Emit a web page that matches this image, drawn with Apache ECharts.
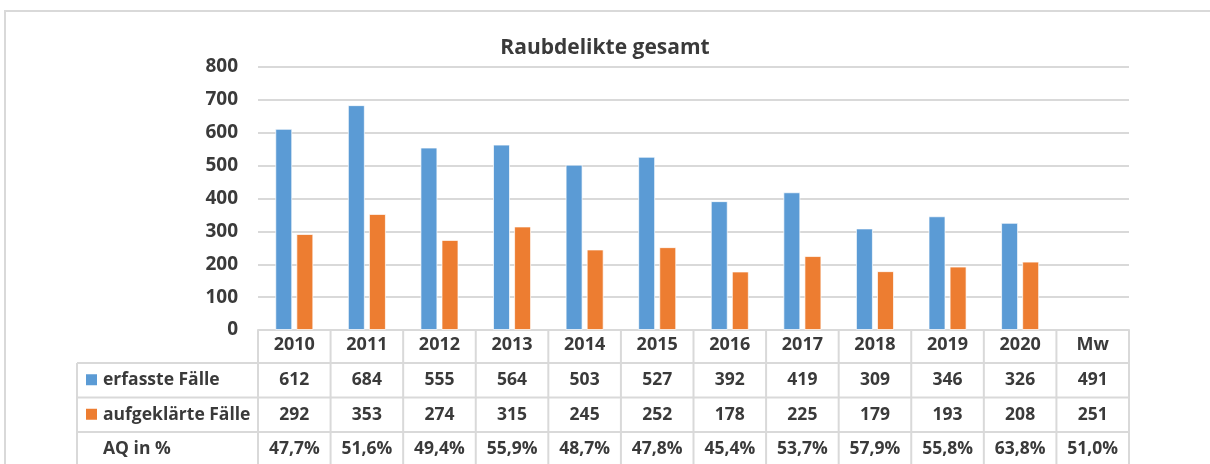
<!DOCTYPE html>
<html>
<head>
<meta charset="utf-8">
<script src="https://cdn.jsdelivr.net/npm/echarts@6/dist/echarts.min.js"></script>
<style>
html,body{margin:0;padding:0;background:#fff;}
#c{width:1210px;height:464px;}
</style>
</head>
<body>
<div id="c"></div>
<script>
const title = 'Raubdelikte gesamt';
const categories = ['2010','2011','2012','2013','2014','2015','2016','2017','2018','2019','2020','Mw'];
const erfasste = [612, 684, 555, 564, 503, 527, 392, 419, 309, 346, 326];
const aufgeklaerte = [292, 353, 274, 315, 245, 252, 178, 225, 179, 193, 208];
const erfassteMw = 491;
const aufgeklaerteMw = 251;
const aq = ['47,7%','51,6%','49,4%','55,9%','48,7%','47,8%','45,4%','53,7%','57,9%','55,8%','63,8%','51,0%'];
const yTicks = [0, 100, 200, 300, 400, 500, 600, 700, 800];

const BLUE = '#5B9BD5', ORANGE = '#ED7D31', TXT = '#3a3a3a', LINE = '#d9d9d9';
const FONT = 'Open Sans';

const chart = echarts.init(document.getElementById('c'), null, {renderer: 'canvas'});
const option = {
  animation: false,
  title: {
    text: title, left: 'center', top: 33,
    textStyle: {fontFamily: FONT, fontWeight: 'bold', fontSize: 21, color: TXT}
  },
  grid: {left: 258, right: 81, top: 67, bottom: 134, containLabel: false},
  xAxis: {
    type: 'category', data: categories,
    axisLine: {lineStyle: {color: LINE, width: 2}},
    axisTick: {show: false},
    axisLabel: {margin: 6, fontFamily: FONT, fontWeight: 'bold', fontSize: 18, color: TXT}
  },
  yAxis: {
    type: 'value', min: yTicks[0], max: yTicks[yTicks.length-1], interval: 100,
    axisLine: {show: false}, axisTick: {show: false},
    axisLabel: {margin: 20, fontFamily: FONT, fontWeight: 'bold', fontSize: 19, color: TXT},
    splitLine: {lineStyle: {color: LINE, width: 2}}
  },
  series: [
    {name: 'erfasste Fälle', type: 'bar', data: erfasste.concat(['-']), barWidth: 17, barGap: '24%',
     itemStyle: {color: BLUE, borderColor: 'rgba(255,255,255,0.7)', borderWidth: 1}},
    {name: 'aufgeklärte Fälle', type: 'bar', data: aufgeklaerte.concat(['-']), barWidth: 17, barGap: '24%',
     itemStyle: {color: ORANGE, borderColor: 'rgba(255,255,255,0.7)', borderWidth: 1}}
  ]
};
chart.setOption(option);

// Data table below the axis
const rows = [
  {name: 'erfasste Fälle', color: BLUE, values: erfasste.concat([erfassteMw]).map(String)},
  {name: 'aufgeklärte Fälle', color: ORANGE, values: aufgeklaerte.concat([aufgeklaerteMw]).map(String)},
  {name: 'AQ in %', color: null, values: aq}
];
const x0 = chart.convertToPixel({xAxisIndex: 0}, categories[0]);
const x1 = chart.convertToPixel({xAxisIndex: 0}, categories[1]);
const cw = x1 - x0;
const gridLeft = x0 - cw / 2;
const gridRight = gridLeft + cw * categories.length;
const axisY = chart.convertToPixel({yAxisIndex: 0}, 0);
const rowH = 34.5;
const headerBottom = axisY + 33;
const tableLeft = 77;
const g = [];
const lineStyle = {stroke: LINE, lineWidth: 2};
const F = 'bold 17.5px "' + FONT + '"';
// outer frame
g.push({type: 'rect', shape: {x: 5, y: 11, width: 1220, height: 470}, style: {fill: 'none', stroke: LINE, lineWidth: 2}, silent: true});
// horizontal lines
for (let r = 0; r <= rows.length; r++) {
  const y = headerBottom + r * rowH;
  g.push({type: 'line', shape: {x1: tableLeft, y1: y, x2: gridRight, y2: y}, style: lineStyle, silent: true});
}
// vertical lines
g.push({type: 'line', shape: {x1: tableLeft, y1: headerBottom, x2: tableLeft, y2: headerBottom + rowH * rows.length + 10}, style: lineStyle});
for (let i = 0; i <= categories.length; i++) {
  const x = gridLeft + i * cw;
  g.push({type: 'line', shape: {x1: x, y1: axisY, x2: x, y2: headerBottom + rowH * rows.length + 10}, style: lineStyle});
}
rows.forEach((row, r) => {
  const cy = headerBottom + r * rowH + rowH / 2;
  if (row.color) {
    g.push({type: 'rect', shape: {x: 86, y: cy - 6, width: 11, height: 11}, style: {fill: row.color}});
  }
  g.push({type: 'text', style: {text: row.name, x: 103, y: cy, font: F, fill: TXT,
    align: 'left', verticalAlign: 'middle', textAlign: 'left', textVerticalAlign: 'middle'}});
  row.values.forEach((v, i) => {
    const cx = chart.convertToPixel({xAxisIndex: 0}, categories[i]);
    g.push({type: 'text', style: {text: v, x: cx, y: cy, font: F, fill: TXT,
      align: 'center', verticalAlign: 'middle', textAlign: 'center', textVerticalAlign: 'middle'}});
  });
});
chart.setOption({graphic: g});
</script>
</body>
</html>
